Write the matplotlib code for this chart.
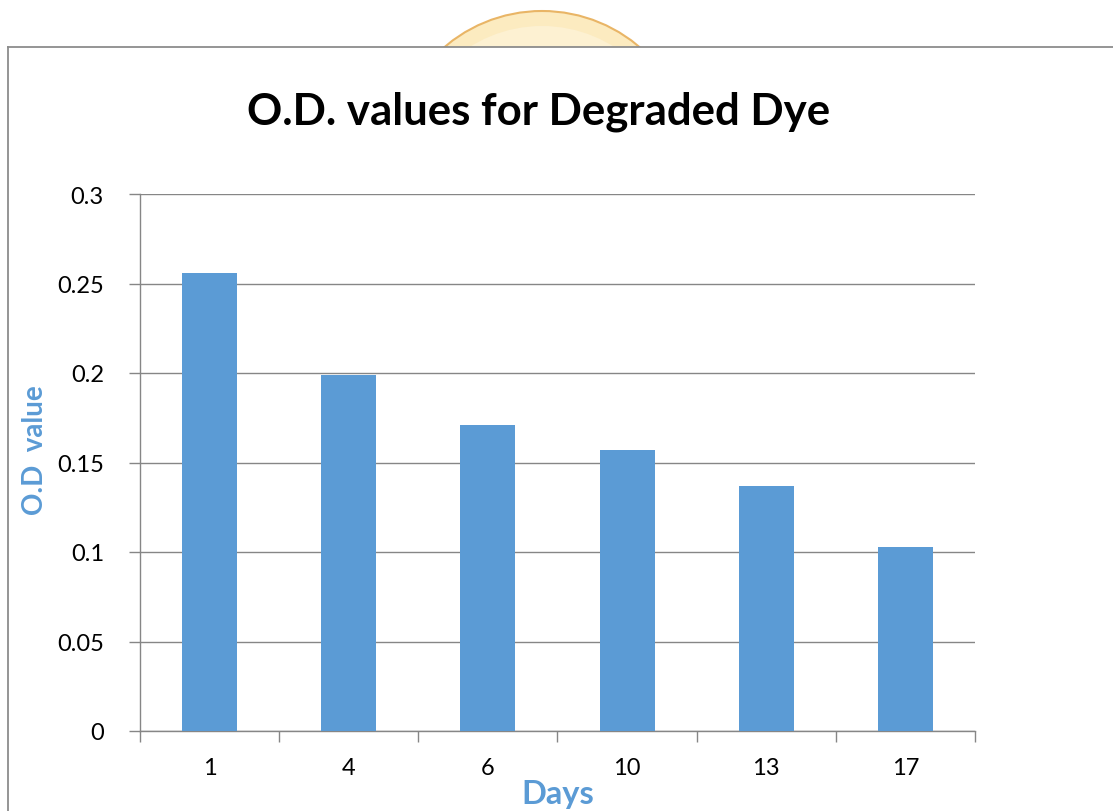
import matplotlib
matplotlib.use("Agg")
import matplotlib.pyplot as plt
from matplotlib.patches import Ellipse, Rectangle
from matplotlib.lines import Line2D

days = ["1", "4", "6", "10", "13", "17"]
od_values = [0.256, 0.199, 0.171, 0.157, 0.137, 0.103]
yticks = [0, 0.05, 0.1, 0.15, 0.2, 0.25, 0.3]
ytick_labels = ["0", "0.05", "0.1", "0.15", "0.2", "0.25", "0.3"]

W, H = 1113, 812
fig = plt.figure(figsize=(W / 100, H / 100), dpi=100)
fig.patch.set_facecolor("white")

def fx(px):
    return px / W

def fy(py):
    return 1 - py / H

# watermark seal peeking above the chart frame
seal = Ellipse((fx(542), fy(162)), 300 / W, 300 / H, transform=fig.transFigure,
               facecolor="#FCEBC0", edgecolor="#E9B566", linewidth=1.5, zorder=0)
fig.patches.append(seal)
inner = Ellipse((fx(542), fy(162)), 270 / W, 270 / H, transform=fig.transFigure,
                facecolor="#FDF1D2", edgecolor="none", zorder=0)
fig.patches.append(inner)
# chart area (white) covering the seal
frame = Rectangle((fx(8), 0), 1 - fx(8) + 0.01, fy(48), transform=fig.transFigure,
                  facecolor="white", edgecolor="none", zorder=1)
fig.patches.append(frame)
fig.lines.append(Line2D([fx(8), 1.0], [fy(48), fy(48)], transform=fig.transFigure,
                        color="#8C8C8C", linewidth=1.3, zorder=2))
fig.lines.append(Line2D([fx(8), fx(8)], [fy(48), 0], transform=fig.transFigure,
                        color="#8C8C8C", linewidth=1.3, zorder=2))

ax = fig.add_axes([fx(140), fy(732), fx(975) - fx(140), fy(195) - fy(732)])
ax.set_zorder(3)
ax.patch.set_alpha(0)

x = list(range(len(days)))
ax.bar(x, od_values, width=0.395, color="#5B9BD5", zorder=3)
ax.set_xlim(-0.5, len(days) - 0.5)
ax.set_ylim(0, 0.3)

ax.set_yticks(yticks)
ax.set_yticklabels(ytick_labels)
ax.yaxis.grid(True, color="#868686", linewidth=1.0)
ax.set_axisbelow(True)

ax.set_xticks(x)
ax.set_xticklabels(days)
ax.set_xticks([i - 0.5 for i in range(len(days) + 1)], minor=True)
ax.tick_params(axis="x", which="major", length=0, pad=19, labelsize=17)
ax.tick_params(axis="x", which="minor", length=8, color="#868686", width=1)
ax.tick_params(axis="y", length=8, color="#868686", width=1, labelsize=17, pad=18)
for lbl in ax.get_xticklabels() + ax.get_yticklabels():
    lbl.set_fontfamily("Lato")

for s in ["top", "right"]:
    ax.spines[s].set_visible(False)
for s in ["left", "bottom"]:
    ax.spines[s].set_color("#868686")
    ax.spines[s].set_linewidth(1.0)

fig.text(fx(539), fy(112), "O.D. values for Degraded Dye", ha="center", va="center",
         fontsize=31.5, fontweight="bold", family="Lato", zorder=4)
fig.text(fx(35), fy(450), "O.D  value", ha="center", va="center", rotation=90,
         fontsize=20, fontweight="bold", family="Lato", color="#5B9BD5", zorder=4)
fig.text(fx(558), fy(795), "Days", ha="center", va="center",
         fontsize=23.5, fontweight="bold", family="Lato", color="#5B9BD5", zorder=4)

fig.savefig("out.png", dpi=100)
